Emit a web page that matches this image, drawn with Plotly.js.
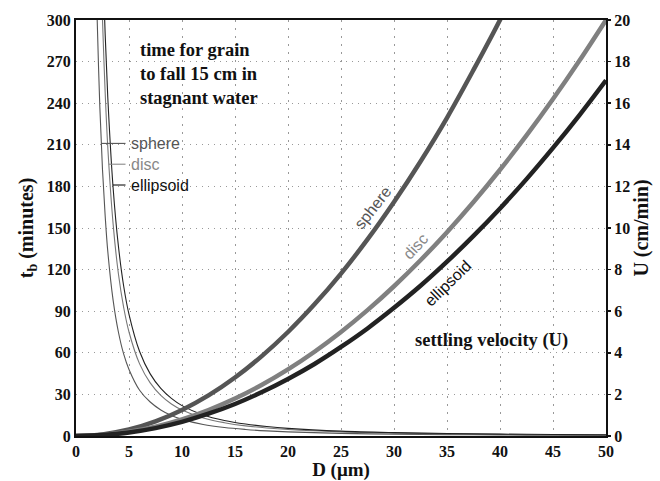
<!DOCTYPE html>
<html>
<head>
<meta charset="utf-8">
<script src="https://cdn.plot.ly/plotly-3.0.1.min.js"></script>
<style>html,body{margin:0;padding:0;background:#fff;}#chart{width:660px;height:481px;}</style>
</head>
<body>
<div id="chart"></div>
<script>
// Settling velocity U (cm/min) vs grain diameter D (µm)
var dU = [0, 2.5, 5, 7.5, 10, 12.5, 15, 17.5, 20, 22.5, 25, 27.5, 30, 32.5, 35, 37.5, 40, 42.5, 45, 47.5, 50];
var uSphere = [0, 0.078, 0.31, 0.70, 1.25, 1.95, 2.81, 3.83, 5.0, 6.33, 7.81, 9.45, 11.25, 13.2, 15.3, 17.6, 20.0, 22.6, 25.3, 28.2, 31.25];
var uDisc = [0, 0.05, 0.2, 0.45, 0.8, 1.25, 1.8, 2.45, 3.2, 4.05, 5.0, 6.05, 7.2, 8.45, 9.8, 11.25, 12.8, 14.45, 16.2, 18.05, 20.0];
var uEllipsoid = [0, 0.043, 0.17, 0.38, 0.68, 1.07, 1.54, 2.10, 2.74, 3.46, 4.28, 5.17, 6.16, 7.22, 8.38, 9.62, 10.94, 12.35, 13.85, 15.43, 17.1];

// Time tb (minutes) for grain to fall 15 cm
var dTbSphere = [1.9, 2, 2.25, 2.5, 2.75, 3, 3.5, 4, 4.5, 5, 6, 7, 8, 9, 10, 12, 14, 16, 18, 20, 25, 30, 35, 40, 45, 50];
var tbSphere = [332, 300, 237, 192, 159, 133, 98, 75, 59, 48, 33, 24.5, 18.8, 14.8, 12, 8.3, 6.1, 4.7, 3.7, 3.0, 1.9, 1.33, 0.98, 0.75, 0.59, 0.48];
var dTbDisc = [2.4, 2.5, 2.75, 3, 3.5, 4, 4.5, 5, 6, 7, 8, 9, 10, 12, 14, 16, 18, 20, 25, 30, 35, 40, 45, 50];
var tbDisc = [326, 300, 248, 208, 153, 117, 92.6, 75, 52, 38.3, 29.3, 23.1, 18.75, 13.0, 9.6, 7.3, 5.8, 4.7, 3.0, 2.08, 1.53, 1.17, 0.93, 0.75];
var dTbEllipsoid = [2.6, 2.75, 3, 3.5, 4, 4.5, 5, 6, 7, 8, 9, 10, 12, 14, 16, 18, 20, 25, 30, 35, 40, 45, 50];
var tbEllipsoid = [324, 290, 244, 179, 137, 108, 87.7, 60.9, 44.8, 34.3, 27.1, 21.9, 15.2, 11.2, 8.6, 6.8, 5.5, 3.5, 2.44, 1.79, 1.37, 1.08, 0.88];

// Legend leader lines for the tb curves
var shapeNames = ['sphere', 'disc', 'ellipsoid'];
var leaderTb = [211, 196, 181];
var leaderStartD = [2.38, 3.09, 3.48];
var leaderEndD = 4.67;

var xTicks = [0, 5, 10, 15, 20, 25, 30, 35, 40, 45, 50];
var yTicks = [0, 30, 60, 90, 120, 150, 180, 210, 240, 270, 300];
var y2Ticks = [0, 2, 4, 6, 8, 10, 12, 14, 16, 18, 20];

var colU = ['#555555', '#808080', '#222222'];
var colT = ['#555555', '#777777', '#222222'];
var labCol = ['#555555', '#888888', '#111111'];

var serif = 'Liberation Serif, Times New Roman, serif';
var sans = 'Liberation Sans, Arial, sans-serif';

var traces = [];
var tbD = [dTbSphere, dTbDisc, dTbEllipsoid];
var tbV = [tbSphere, tbDisc, tbEllipsoid];
for (var i = 0; i < 3; i++) {
  traces.push({x: tbD[i], y: tbV[i], mode: 'lines', line: {color: colT[i], width: 1.1, shape: 'spline'}, yaxis: 'y', hoverinfo: 'skip'});
}
var uV = [uSphere, uDisc, uEllipsoid];
for (var j = 0; j < 3; j++) {
  traces.push({x: dU, y: uV[j], mode: 'lines', line: {color: colU[j], width: 4.5, shape: 'spline'}, yaxis: 'y2', hoverinfo: 'skip'});
}
for (var k = 0; k < 3; k++) {
  traces.push({x: [leaderStartD[k], leaderEndD], y: [leaderTb[k], leaderTb[k]], mode: 'lines', line: {color: labCol[k], width: 1.1}, yaxis: 'y', hoverinfo: 'skip'});
}

var annotations = [
  {x: 5.86, y: 287, xref: 'x', yref: 'y', xanchor: 'left', yanchor: 'top', align: 'left', showarrow: false,
   text: 'time for grain<br>to fall 15 cm in<br>stagnant water', font: {family: serif, size: 18.5, color: '#111', weight: 'bold'}},
  {x: 31.8, y: 69, xref: 'x', yref: 'y', xanchor: 'left', yanchor: 'middle', showarrow: false,
   text: 'settling velocity (U)', font: {family: serif, size: 18.5, color: '#111', weight: 'bold'}},
  {x: 28.0, y: 165, xref: 'x', yref: 'y', showarrow: false, textangle: -52,
   text: 'sphere', font: {family: sans, size: 16, color: labCol[0]}},
  {x: 32.0, y: 137, xref: 'x', yref: 'y', showarrow: false, textangle: -47,
   text: 'disc', font: {family: sans, size: 16, color: labCol[1]}},
  {x: 35.06, y: 110, xref: 'x', yref: 'y', showarrow: false, textangle: -44,
   text: 'ellipsoid', font: {family: sans, size: 16, color: labCol[2]}}
];
for (var m = 0; m < 3; m++) {
  annotations.push({x: leaderEndD + 0.35, y: leaderTb[m], xref: 'x', yref: 'y', xanchor: 'left', yanchor: 'middle', showarrow: false,
    text: shapeNames[m], font: {family: sans, size: 16, color: labCol[m]}});
}

var tickFont = {family: serif, size: 16, color: '#111', weight: 'bold'};
var titleFont = {family: serif, size: 20, color: '#111', weight: 'bold'};

var layout = {
  width: 660, height: 481,
  margin: {l: 75.5, r: 54, t: 19.5, b: 45},
  paper_bgcolor: '#fff', plot_bgcolor: '#fff',
  showlegend: false,
  xaxis: {
    range: [0, 50], tickvals: xTicks, ticktext: xTicks.map(String),
    showgrid: true, gridcolor: '#999999', griddash: '2px,6px', gridwidth: 1,
    zeroline: false, showline: true, linecolor: '#111', linewidth: 2, mirror: true,
    ticks: '', tickfont: tickFont, ticklabelstandoff: 0,
    title: {text: 'D (\u03bcm)', font: {family: serif, size: 19, color: '#111', weight: 'bold'}, standoff: 2}
  },
  yaxis: {
    range: [0, 300], tickvals: yTicks, ticktext: yTicks.map(String),
    showgrid: true, gridcolor: '#999999', griddash: '1px,5px', gridwidth: 1,
    zeroline: false, showline: true, linecolor: '#111', linewidth: 2, mirror: true,
    ticks: '', tickfont: tickFont,
    title: {text: 't<sub>b</sub> (minutes)', font: titleFont, standoff: 8}
  },
  yaxis2: {
    range: [0, 20], tickvals: y2Ticks, ticktext: y2Ticks.map(String),
    overlaying: 'y', side: 'right', showgrid: false, zeroline: false,
    showline: false, ticks: 'outside', ticklen: 4, tickcolor: '#111', tickwidth: 1.5,
    tickfont: tickFont, ticklabelstandoff: 0,
    title: {text: 'U (cm/min)', font: titleFont, standoff: 4}
  },
  annotations: annotations
};

Plotly.newPlot('chart', traces, layout, {staticPlot: true, displayModeBar: false});
</script>
</body>
</html>
